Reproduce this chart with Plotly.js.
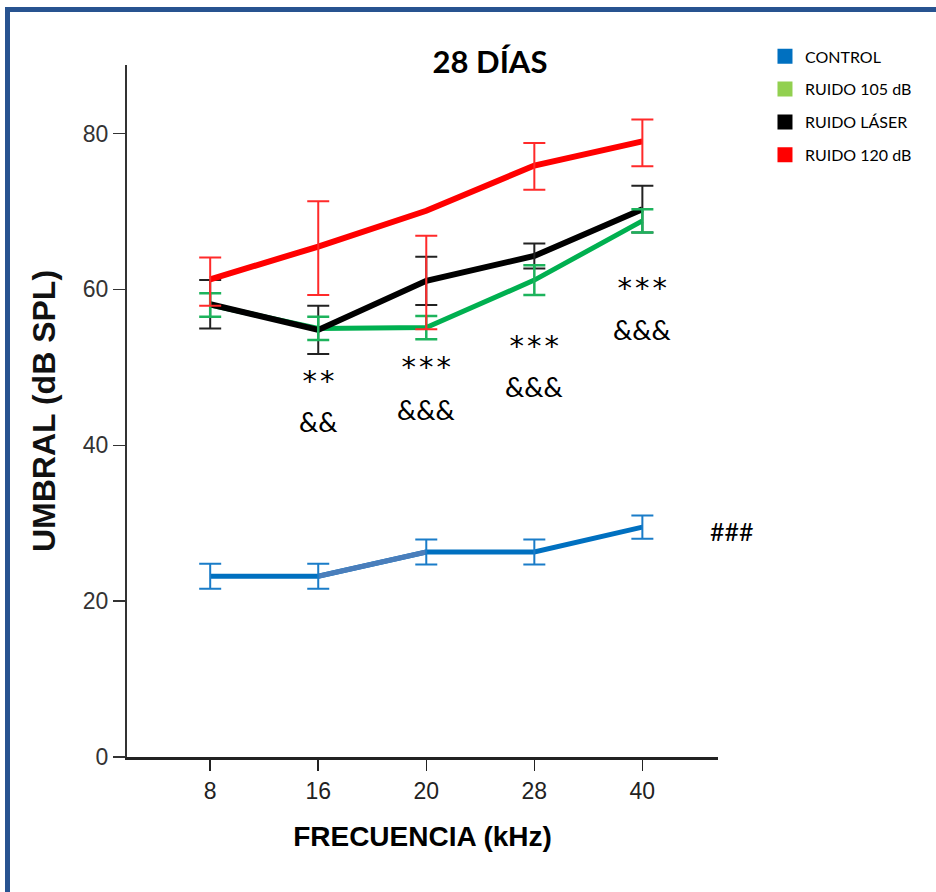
<!DOCTYPE html>
<html>
<head>
<meta charset="utf-8">
<script src="https://cdn.plot.ly/plotly-3.0.1.min.js"></script>
<style>
  html, body { margin: 0; padding: 0; background: #ffffff; }
  #wrap { position: relative; width: 936px; height: 892px; overflow: hidden; }
  #chart { position: absolute; left: 0; top: 0; width: 936px; height: 892px; }
  #frame { position: absolute; left: 5px; top: 7px; width: 940px; height: 900px;
           border-top: 5px solid #285390; border-left: 5px solid #285390; pointer-events: none; }
</style>
</head>
<body>
<div id="wrap">
  <div id="chart"></div>
  <div id="frame"></div>
</div>
<script>
// ---- data ----
const freqs = ['8', '16', '20', '28', '40'];

const controlMean = [23.2, 23.2, 26.3, 26.3, 29.5];
const controlSd   = [1.6, 1.6, 1.6, 1.6, 1.5];

const ruido105Mean = [58.0, 55.0, 55.1, 61.2, 68.8];
const ruido105Sd   = [1.5, 1.5, 1.5, 1.9, 1.5];

const laserMean = [58.1, 54.8, 61.1, 64.3, 70.3];
const laserSd   = [3.1, 3.1, 3.1, 1.6, 3.0];

const ruido120Mean   = [61.3, 65.5, 70.1, 75.9, 79.0];
const ruido120BarMid = [61.0, 65.3, 60.9, 75.8, 78.8];
const ruido120Sd     = [3.1, 6.0, 6.0, 3.0, 3.0];

const seriesNames = ['CONTROL', 'RUIDO 105 dB', 'RUIDO LÁSER', 'RUIDO 120 dB'];

const sigStars = ['', '**', '***', '***', '***'];
const sigAmps  = ['', '&&', '&&&', '&&&', '&&&'];
const starY = [null, 48.2, 50.0, 52.8, 60.2];
const ampY  = [null, 43.0, 44.6, 47.5, 54.9];
const controlMark = '###';
const controlMarkY = 29.0;

// ---- styles ----
const C_CONTROL = '#0070c0', C_CONTROL2 = '#4a7ebb';
const C_105 = '#00b050', C_105_LEG = '#92d050';
const C_LASER = '#000000';
const C_120 = '#ff0000';

function errTrace(y, sd, color, thick) {
  return {
    x: freqs, y: y, type: 'scatter', mode: 'markers',
    marker: { size: 1, opacity: 0 }, showlegend: false, hoverinfo: 'skip',
    error_y: { type: 'data', array: sd, visible: true, color: color, thickness: thick || 2, width: 11 }
  };
}
function lineTrace(x, y, color, w) {
  return { x: x, y: y, type: 'scatter', mode: 'lines',
           line: { color: color, width: w }, showlegend: false, hoverinfo: 'skip' };
}
function legTrace(name, color, g) {
  return { x: [null], y: [null], type: 'scatter', mode: 'markers', name: name,
           legendgroup: g, marker: { symbol: 'square', size: 15, color: color } };
}

const traces = [
  lineTrace(freqs, controlMean, C_CONTROL, 5),
  lineTrace(freqs.slice(1, 3), controlMean.slice(1, 3), C_CONTROL2, 5),
  errTrace(controlMean, controlSd, '#1a7cc8', 2),
  lineTrace(freqs, ruido105Mean, C_105, 5),
  lineTrace(freqs, laserMean, C_LASER, 6),
  errTrace(laserMean, laserSd, '#222222', 2),
  errTrace(ruido105Mean, ruido105Sd, '#1db35c', 2.5),
  lineTrace(freqs, ruido120Mean, C_120, 6),
  errTrace(ruido120BarMid, ruido120Sd, '#ff2a2a', 2),
  legTrace(seriesNames[0], C_CONTROL, 'a'),
  legTrace(seriesNames[1], C_105_LEG, 'b'),
  legTrace(seriesNames[2], C_LASER, 'c'),
  legTrace(seriesNames[3], C_120, 'd')
];

const starFont = { family: '"DejaVu Sans Mono", monospace', size: 29, color: '#000' };
const ampFont = { family: 'Lato, "Open Sans", sans-serif', size: 27, color: '#000' };
const annotations = [];
freqs.forEach((f, i) => {
  if (sigStars[i]) annotations.push({ x: i, y: starY[i], xref: 'x', yref: 'y', text: sigStars[i],
    showarrow: false, font: starFont, xanchor: 'center', yanchor: 'middle' });
  if (sigAmps[i]) annotations.push({ x: i, y: ampY[i], xref: 'x', yref: 'y', text: sigAmps[i].replace(/&/g, '&amp;'),
    showarrow: false, font: ampFont, xanchor: 'center', yanchor: 'middle' });
});
annotations.push({ x: 0.983, y: controlMarkY, xref: 'paper', yref: 'y', text: controlMark,
  showarrow: false, font: { family: 'Lato, sans-serif', size: 25, color: '#000' }, xanchor: 'left', yanchor: 'middle' });

const layout = {
  width: 936, height: 892,
  margin: { l: 127, r: 218, t: 65, b: 135 },
  paper_bgcolor: '#ffffff', plot_bgcolor: '#ffffff',
  title: { text: '<b>28 DÍAS</b>', x: 490 / 936, xanchor: 'center', y: 1 - 62 / 892, yanchor: 'middle',
           font: { family: 'Lato, "Open Sans", sans-serif', size: 31, color: '#000' } },
  xaxis: {
    type: 'category', range: [-0.77, 4.70], showgrid: false, zeroline: false,
    showline: true, linecolor: '#222', linewidth: 3,
    ticks: 'outside', ticklen: 11, tickwidth: 1.5, tickcolor: '#222',
    tickfont: { family: '"Liberation Sans", Arial, sans-serif', size: 23, color: '#222' },
    title: { text: '<b>FRECUENCIA (kHz)</b>', standoff: 24,
             font: { family: '"Liberation Sans", Arial, sans-serif', size: 28, color: '#000' } }
  },
  yaxis: {
    range: [0, 88.8], tickvals: [0, 20, 40, 60, 80], showgrid: false, zeroline: false,
    showline: true, linecolor: '#333', linewidth: 2,
    ticks: 'outside', ticklen: 12, tickwidth: 1.5, tickcolor: '#333',
    tickfont: { family: '"Liberation Sans", Arial, sans-serif', size: 23, color: '#333' },
    title: { text: '<b>UMBRAL (dB SPL)</b>', standoff: 18,
             font: { family: '"Liberation Sans", Arial, sans-serif', size: 32, color: '#111' } }
  },
  showlegend: true,
  legend: { x: 1.0795, xanchor: 'left', y: 1.037, yanchor: 'top', traceorder: 'grouped',
            tracegroupgap: 9, bgcolor: 'rgba(0,0,0,0)',
            font: { family: 'Lato, "Open Sans", sans-serif', size: 16, color: '#000' } },
  annotations: annotations
};

Plotly.newPlot('chart', traces, layout, { displayModeBar: false, staticPlot: true });
</script>
</body>
</html>
